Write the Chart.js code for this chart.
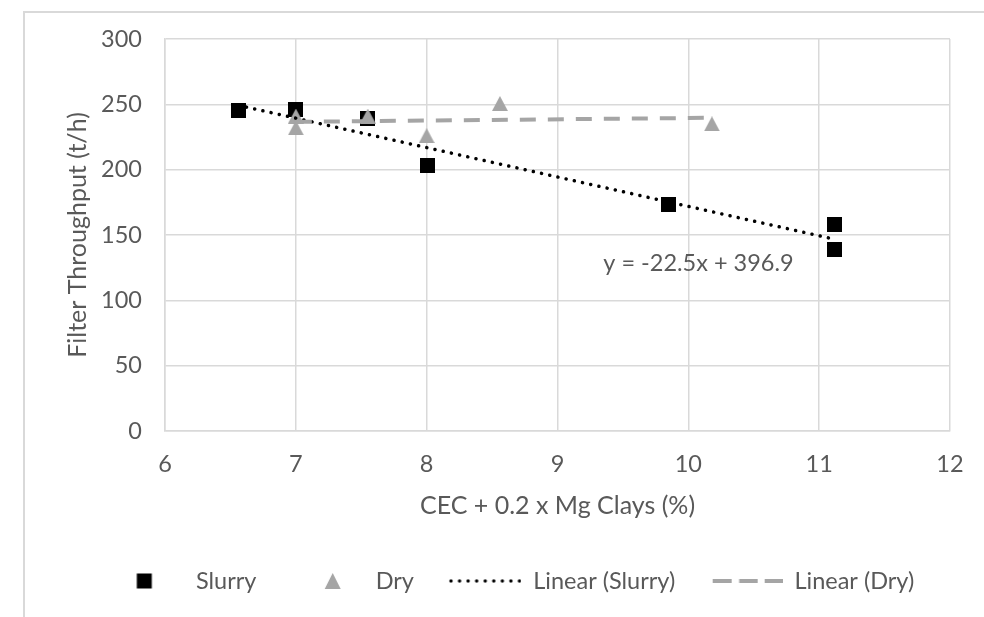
<!DOCTYPE html>
<html><head><meta charset="utf-8">
<script src="https://cdn.jsdelivr.net/npm/chart.js@4/dist/chart.umd.min.js"></script>
<style>
html,body{margin:0;padding:0;background:#fff;overflow:hidden;width:984px;height:617px;}
#frame{position:absolute;left:23px;top:11px;width:1100px;height:700px;border-left:2px solid #d9d9d9;border-top:2px solid #d9d9d9;}
#wrap{position:absolute;left:25px;top:13px;width:978px;height:604px;}
</style></head><body>
<div id="frame"></div>
<div id="wrap"><canvas id="c" width="978" height="604"></canvas></div>
<script>
// ---- data ----
const xTickValues = [6, 7, 8, 9, 10, 11, 12];
const yTickValues = [0, 50, 100, 150, 200, 250, 300];
const slurryX = [6.56, 7.0, 7.55, 8.01, 9.85, 11.12, 11.12];
const slurryY = [245, 246, 239.5, 203, 173.6, 158, 139];
const dryX = [7.0, 7.0, 7.55, 8.0, 8.56, 10.18];
const dryY = [241, 232, 241, 226, 250.6, 235];
const slurryTrendX = [6.56, 11.12];
const slurryTrendY = [249.3, 146.7];
const dryTrendX = [7.0, 10.18];
const dryTrendY = [236.6, 239.7];
const seriesNames = ['Slurry', 'Dry', 'Linear (Slurry)', 'Linear (Dry)'];
const xTitle = 'CEC + 0.2 x Mg Clays (%)';
const yTitle = 'Filter Throughput (t/h)';
const equationText = 'y = -22.5x + 396.9';

const TEXT = '#595959';
const GRID = '#d9d9d9';
const DRY = '#a5a5a5';
const FONT = 'Lato';
const FS = 23.5;   // ticks, legend, equation
const FT = 25;     // axis titles

function mk(w, h, draw) { const c = document.createElement('canvas'); c.width = w; c.height = h; draw(c.getContext('2d')); return c; }
const squareImg = mk(15, 15, g => { g.fillStyle = '#000'; g.fillRect(0, 0, 15, 15); });
const triImg = mk(16, 15, g => { g.fillStyle = DRY; g.beginPath(); g.moveTo(0, 15); g.lineTo(8, 0); g.lineTo(16, 15); g.closePath(); g.fill(); });

const BW = 100, BH = 26;
const legSquare = mk(BW, BH, g => { g.fillStyle = '#000'; g.fillRect(52.5, 5.5, 15, 15); });
const legTri = mk(BW, BH, g => { g.fillStyle = DRY; g.beginPath(); g.moveTo(60.75, 21); g.lineTo(68.75, 5); g.lineTo(76.75, 21); g.closePath(); g.fill(); });
const legDot = mk(BW, BH, g => { g.fillStyle = '#000'; for (let i = 0; i < 9; i++) { g.beginPath(); g.arc(29.5 + i * 8.56, 13, 1.7, 0, Math.PI * 2); g.fill(); } });
const legDash = mk(BW, BH, g => { g.strokeStyle = DRY; g.lineWidth = 4; g.beginPath(); [[30, 49], [56.5, 75], [82, 100]].forEach(([a, b]) => { g.moveTo(a, 13); g.lineTo(b, 13); }); g.stroke(); });
const legImgs = [legSquare, legTri, legDot, legDash];

const pts = (xs, ys) => xs.map((x, i) => ({ x: x, y: ys[i] }));

const eqPlugin = {
  id: 'eq',
  afterDatasetsDraw(chart) {
    const { ctx, scales: { x, y } } = chart;
    ctx.save();
    ctx.font = FS + 'px ' + FONT;
    ctx.fillStyle = TEXT;
    ctx.textAlign = 'left';
    ctx.textBaseline = 'middle';
    ctx.fillText(equationText, x.getPixelForValue(9.35), y.getPixelForValue(128.4));
    ctx.restore();
  }
};

Chart.defaults.font.family = FONT;
Chart.defaults.font.size = FS;
Chart.defaults.color = TEXT;

new Chart(document.getElementById('c'), {
  type: 'scatter',
  data: {
    datasets: [
      { label: seriesNames[0], data: pts(slurryX, slurryY), pointStyle: squareImg, pointRadius: 8, order: 3 },
      { label: seriesNames[1], data: pts(dryX, dryY), pointStyle: triImg, pointRadius: 8, order: 2 },
      { label: seriesNames[2], data: pts(slurryTrendX, slurryTrendY), showLine: true, pointRadius: 0, borderColor: '#000', borderWidth: 3.5, borderDash: [0.1, 8.3], borderCapStyle: 'round', fill: false, order: 1 },
      { label: seriesNames[3], data: pts(dryTrendX, dryTrendY), showLine: true, pointRadius: 0, borderColor: DRY, borderWidth: 4, borderDash: [16, 12], borderCapStyle: 'butt', fill: false, order: 0 }
    ]
  },
  options: {
    responsive: false,
    animation: false,
    events: [],
    layout: { padding: { left: 23.5, right: 53, top: 26, bottom: 14.25 } },
    plugins: {
      tooltip: { enabled: false },
      legend: {
        position: 'bottom',
        labels: {
          usePointStyle: true,
          pointStyleWidth: BW,
          padding: 7.5,
          color: TEXT,
          font: { family: FONT, size: FS },
          generateLabels: () => seriesNames.map((t, i) => ({ text: t, pointStyle: legImgs[i], fillStyle: '#000', strokeStyle: '#000', lineWidth: 0, hidden: false, datasetIndex: i, fontColor: TEXT }))
        }
      }
    },
    scales: {
      x: {
        type: 'linear', min: 6, max: 12,
        afterBuildTicks: s => { s.ticks = xTickValues.map(v => ({ value: v })); },
        afterFit: s => { s.height = 130.75; },
        ticks: { padding: 18.9, color: TEXT, font: { size: FS } },
        grid: { color: GRID, lineWidth: 1.5, drawTicks: false },
        border: { color: GRID, width: 1.5 },
        title: { display: true, text: xTitle, color: TEXT, font: { size: FT }, padding: { top: 4, bottom: 40.75 } }
      },
      y: {
        type: 'linear', min: 0, max: 300,
        afterBuildTicks: s => { s.ticks = yTickValues.map(v => ({ value: v })); },
        afterFit: s => { s.width = 116.5; },
        ticks: { padding: 0, color: TEXT, font: { size: FS } },
        grid: { color: GRID, lineWidth: 1.5, drawTicks: true, tickLength: 23, tickColor: 'rgba(0,0,0,0)' },
        border: { color: GRID, width: 1.5 },
        title: { display: true, text: yTitle, color: TEXT, font: { size: FT }, padding: { top: 14.5, bottom: 4 } }
      }
    }
  },
  plugins: [eqPlugin]
});
</script>
</body></html>
